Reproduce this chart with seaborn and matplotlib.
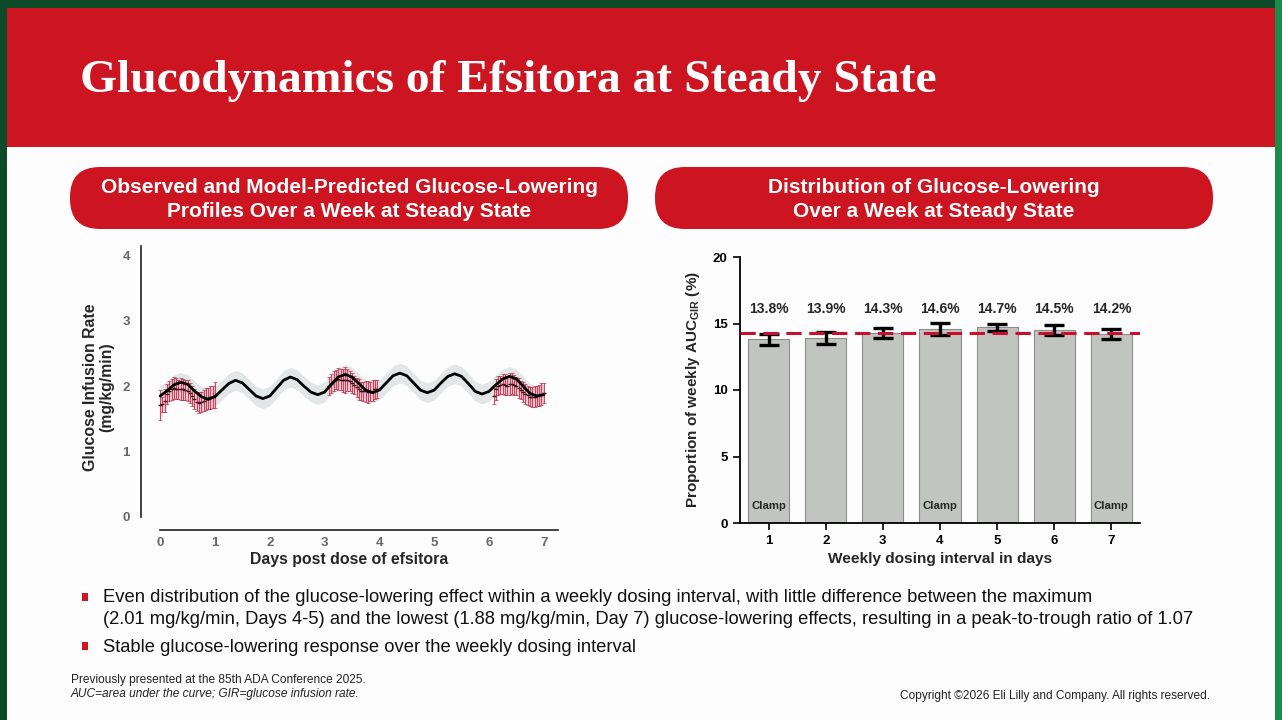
import numpy as np
import pandas as pd
import seaborn as sns
import matplotlib.pyplot as plt
from matplotlib.patches import Rectangle, FancyBboxPatch

# ---- data ----
# model-predicted GIR (mg/kg/min), sampled every 3 h over the week
model_hours = list(range(0, 169, 3))
model_gir = [1.85, 1.93, 2.02, 2.06, 2.03, 1.93, 1.84, 1.80,
             1.84, 1.94, 2.04, 2.09, 2.05, 1.95, 1.85, 1.81,
             1.85, 1.97, 2.09, 2.14, 2.10, 2.00, 1.91, 1.87,
             1.91, 2.03, 2.14, 2.18, 2.14, 2.04, 1.94, 1.90,
             1.94, 2.05, 2.16, 2.20, 2.16, 2.05, 1.94, 1.90,
             1.94, 2.05, 2.15, 2.19, 2.15, 2.04, 1.92, 1.88,
             1.92, 2.02, 2.11, 2.15, 2.11, 2.00, 1.89, 1.85,
             1.87]
pred_half_width = 0.15

# observed clamp data (hourly means and SE), days 1, 4 and 7
obs_hours = (list(range(0, 25)) + list(range(74, 96)) + list(range(146, 169)))
obs_gir = [1.71, 1.72, 1.78, 1.88, 1.93, 1.95, 1.97, 1.96, 1.95, 1.96, 1.95, 1.94, 1.93,
           1.90, 1.85, 1.80, 1.76, 1.75, 1.76, 1.78, 1.80, 1.81, 1.83, 1.84, 1.86,
           2.00, 2.04, 2.08, 2.10, 2.11, 2.10, 2.09, 2.09, 2.10, 2.08, 2.05, 2.02,
           1.98, 1.95, 1.93, 1.92, 1.92, 1.91, 1.92, 1.93, 1.95, 1.96,
           1.85, 1.95, 2.01, 2.02, 2.03, 2.02, 2.01, 2.03, 2.04, 2.02, 2.00, 1.97,
           1.94, 1.91, 1.88, 1.86, 1.84, 1.83, 1.84, 1.85, 1.86, 1.88, 1.90]
obs_err = [0.23, 0.12, 0.17, 0.16, 0.15, 0.16, 0.17, 0.16, 0.15, 0.17, 0.16, 0.15, 0.16,
           0.15, 0.16, 0.15, 0.14, 0.16, 0.15, 0.16, 0.17, 0.16, 0.18, 0.17, 0.20,
           0.14, 0.15, 0.16, 0.15, 0.17, 0.16, 0.18, 0.20, 0.17, 0.16, 0.15, 0.14,
           0.15, 0.16, 0.14, 0.15, 0.16, 0.17, 0.15, 0.16, 0.15, 0.14,
           0.12, 0.16, 0.15, 0.14, 0.15, 0.16, 0.14, 0.17, 0.16, 0.15, 0.14, 0.15,
           0.14, 0.15, 0.16, 0.15, 0.14, 0.15, 0.16, 0.15, 0.16, 0.17, 0.15]

# distribution of glucose lowering by day
dose_days = ["1", "2", "3", "4", "5", "6", "7"]
auc_share = [13.8, 13.9, 14.3, 14.6, 14.7, 14.5, 14.2]
auc_err = [0.39, 0.47, 0.37, 0.44, 0.25, 0.38, 0.39]
clamp_days = ["1", "4", "7"]
even_share = 14.29

RED = "#cc1520"
GREEN_DARK = "#0d4a2a"
GREEN_LIGHT = "#1b8c4a"

sns.set_theme(style="white")
plt.rcParams["font.family"] = ["Liberation Sans", "DejaVu Sans"]
plt.rcParams["mathtext.fontset"] = "custom"
plt.rcParams["mathtext.rm"] = "Liberation Sans:bold"
plt.rcParams["mathtext.bf"] = "Liberation Sans:bold"

fig = plt.figure(figsize=(12.82, 7.2), dpi=100)
fig.patch.set_facecolor("#fdfdfd")

# ---- slide background (pixel coordinates) ----
bg = fig.add_axes([0, 0, 1, 1], zorder=0)
bg.set_xlim(0, 1282)
bg.set_ylim(720, 0)
bg.axis("off")
bg.add_patch(Rectangle((0, 0), 1282, 8, color=GREEN_DARK, lw=0))
bg.add_patch(Rectangle((0, 0), 7, 720, color=GREEN_DARK, lw=0))
bg.add_patch(Rectangle((1275, 0), 7, 720, color=GREEN_LIGHT, lw=0))
bg.add_patch(Rectangle((7, 8), 1268, 139, color=RED, lw=0))
bg.text(80, 81, "Glucodynamics of Efsitora at Steady State", color="white",
        fontsize=34.2, fontweight="bold", family="Liberation Serif", va="center", ha="left")

for x0, lines in [(70, "Observed and Model-Predicted Glucose-Lowering\nProfiles Over a Week at Steady State"),
                  (655, "Distribution of Glucose-Lowering\nOver a Week at Steady State")]:
    bg.add_patch(FancyBboxPatch((x0, 167), 558, 62, boxstyle="round,pad=0,rounding_size=30",
                                fc=RED, ec="none"))
    bg.text(x0 + 279, 199.5, lines, color="white", fontsize=15, fontweight="bold",
            ha="center", va="center", linespacing=1.32)

# bullets
for yb in (597, 646):
    bg.add_patch(Rectangle((82, yb - 4), 6, 8, color=RED, lw=0))
bfs = 13.2
bg.text(103, 598, "Even distribution of the glucose-lowering effect within a weekly dosing interval, "
        "with little difference between the maximum", fontsize=bfs, va="center", color="#111111")
bg.text(103, 620, "(2.01 mg/kg/min, Days 4-5) and the lowest (1.88 mg/kg/min, Day 7) glucose-lowering "
        "effects, resulting in a peak-to-trough ratio of 1.07", fontsize=bfs, va="center", color="#111111")
bg.text(103, 647, "Stable glucose-lowering response over the weekly dosing interval",
        fontsize=bfs, va="center", color="#111111")
bg.text(71, 680, "Previously presented at the 85th ADA Conference 2025.", fontsize=8.6,
        va="center", color="#222222")
bg.text(71, 694, "AUC=area under the curve; GIR=glucose infusion rate.", fontsize=8.6,
        va="center", style="italic", color="#222222")
bg.text(1210, 696, "Copyright \u00a92026 Eli Lilly and Company. All rights reserved.", fontsize=8.6,
        va="center", ha="right", color="#222222")

# ---- left chart: GIR profile ----
model = pd.DataFrame({"day": np.array(model_hours) / 24, "gir": model_gir})
obs = pd.DataFrame({"day": np.array(obs_hours) / 24, "gir": obs_gir, "err": obs_err})

ax1 = fig.add_axes([141 / 1282, (720 - 530) / 720, 417 / 1282, 285 / 720], zorder=2)
ax1.set_facecolor("none")
ax1.fill_between(model["day"], model["gir"] - pred_half_width, model["gir"] + pred_half_width,
                 color="#e3e6e6", lw=0, zorder=1)
for seg in [(0, 1.01), (3, 4.01), (6, 7.01)]:
    s = obs[(obs["day"] >= seg[0]) & (obs["day"] <= seg[1])]
    ax1.fill_between(s["day"], s["gir"] - s["err"], s["gir"] + s["err"],
                     color="#f2b0bf", alpha=0.6, lw=0, zorder=2)
ax1.errorbar(obs["day"], obs["gir"], yerr=obs["err"], fmt="none", ecolor="#b8334f",
             elinewidth=0.8, capsize=1.2, capthick=0.6, alpha=0.85, zorder=3)
sns.scatterplot(data=obs, x="day", y="gir", ax=ax1, marker="_", s=10, color="#3a1018",
                linewidth=1.0, zorder=4)
sns.lineplot(data=model, x="day", y="gir", ax=ax1, color="black", lw=2.0, zorder=5)

ax1.set_xlim(-0.35, 7.26)
ax1.set_ylim(-0.2, 4.16)
ax1.set_xticks(range(0, 8))
ax1.set_yticks(range(0, 5))
for side in ("top", "right"):
    ax1.spines[side].set_visible(False)
ax1.spines["left"].set_bounds(0, 4.15)
ax1.spines["bottom"].set_bounds(0, 7.26)
for side in ("left", "bottom"):
    ax1.spines[side].set_color("#222222")
    ax1.spines[side].set_linewidth(1.2)
ax1.tick_params(axis="both", which="both", direction="out", length=5, width=1,
                color="#444444", labelcolor="#666666", labelsize=9.5, pad=3)
ax1.tick_params(axis="x", length=0, pad=5)
for lab in ax1.get_xticklabels() + ax1.get_yticklabels():
    lab.set_fontweight("bold")
ax1.set_xlabel("Days post dose of efsitora", fontsize=11.4, fontweight="bold", labelpad=2)
ax1.set_ylabel("Glucose Infusion Rate\n(mg/kg/min)", fontsize=11.4, fontweight="bold",
               labelpad=6, linespacing=1.1)

# ---- right chart: share of weekly AUC ----
share = pd.DataFrame({"day": dose_days, "share": auc_share, "err": auc_err})

ax2 = fig.add_axes([740 / 1282, (720 - 523) / 720, 400 / 1282, 266 / 720], zorder=2)
ax2.set_facecolor("none")
sns.barplot(data=share, x="day", y="share", order=dose_days, ax=ax2, color="#c2c4c2",
            edgecolor="#8c8c8c", linewidth=0.8, width=0.72, saturation=1, errorbar=None, zorder=1)
ax2.errorbar(range(len(dose_days)), share["share"], yerr=share["err"], fmt="none",
             ecolor="black", elinewidth=2.4, capsize=7, capthick=2.4, zorder=3)
ax2.axhline(even_share, color="#c8102e", lw=2.2, ls=(0, (5, 2.5)), zorder=4)
for i, (d, v) in enumerate(zip(dose_days, auc_share)):
    ax2.text(i, 16.1, f"{v:.1f}%", ha="center", va="center", fontsize=10, fontweight="bold")
    if d in clamp_days:
        ax2.text(i, 1.3, "Clamp", ha="center", va="center", fontsize=8.2, fontweight="bold")

ax2.set_xlim(-0.5, 6.5)
ax2.set_ylim(0, 20)
ax2.set_yticks([0, 5, 10, 15, 20])
for side in ("top", "right"):
    ax2.spines[side].set_visible(False)
for side in ("left", "bottom"):
    ax2.spines[side].set_color("black")
    ax2.spines[side].set_linewidth(1.3)
ax2.tick_params(axis="both", direction="out", length=5, width=1.2, color="black",
                labelsize=9.5, labelcolor="black", pad=4)
ax2.tick_params(axis="x", bottom=True)
ax2.tick_params(axis="y", left=True)
for lab in ax2.get_xticklabels() + ax2.get_yticklabels():
    lab.set_fontweight("bold")
ax2.set_xlabel("Weekly dosing interval in days", fontsize=11.1, fontweight="bold", labelpad=3)
ax2.set_ylabel(r"Proportion of weekly AUC$_{\mathrm{GIR}}$ (%)", fontsize=11,
               fontweight="bold", labelpad=8)

fig.savefig("out.png", dpi=100, facecolor=fig.get_facecolor())
